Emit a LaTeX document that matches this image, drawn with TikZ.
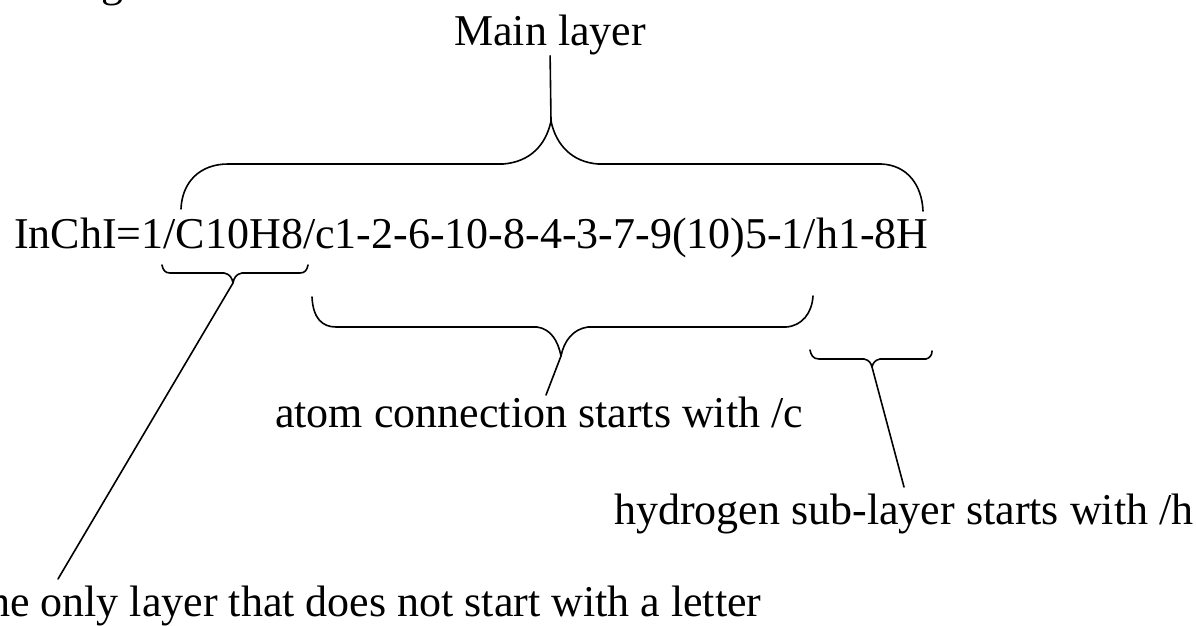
\documentclass[tikz,border=0pt]{standalone}
\usepackage{fontspec}
\setmainfont{Liberation Serif}
\begin{document}
\begin{tikzpicture}[x=1pt,y=-1pt,
  lbl/.style={inner sep=0pt,anchor=base west,font=\fontsize{44}{53}\selectfont},
  brace/.style={line width=1.6pt,line join=round,line cap=round},
  stem/.style={line width=1.6pt,line cap=round}]
\useasboundingbox (0,0) rectangle (1196,626);
\fill[white] (0,0) rectangle (1196,626);
\clip (0,0) rectangle (1196,626);

% tail of the caption line above the figure
\node[lbl] (cap) at (101,-3) {g};

% labels
\node[lbl] (main)  at (454,46)  {Main layer};
\node[lbl] (inchi) at (14,248)  {InChI=1/C10H8/c1-2-6-10-8-4-3-7-9(10)5-1/h1-8H};
\node[lbl] (atom)  at (275,427) {atom connection starts with /c};
\node[lbl] (hyd)   at (614,524) {hydrogen sub-layer starts with /h};
\node[lbl] (first) at (-39,616) {The only layer that does not start with a letter};

% brace tips and free ends of the pointer lines
\coordinate (mainTip) at (551,121);
\coordinate (formTip) at (233,283);
\coordinate (formEnd) at (58,579);
\coordinate (connTip) at (561,356);
\coordinate (connEnd) at (546,395);
\coordinate (hydTip)  at (872,367);
\coordinate (hydEnd)  at (904,487);

% main layer brace over the formula and connection table
\draw[brace] (181,209) .. controls (182,182) and (200,164) .. (228,164)
  -- (503,164) .. controls (530,162) and (546,145) .. (mainTip)
  .. controls (556,145) and (572,162) .. (598,164)
  -- (881,164) .. controls (908,165) and (922,186) .. (923,211);
\draw[stem] (mainTip) -- (main.south);

% formula layer brace
\draw[brace] (162,265) .. controls (163,270) and (165,273) .. (170,273)
  -- (224,273) .. controls (230,274) and (232,278) .. (formTip)
  .. controls (234,278) and (236,274) .. (242,273)
  -- (300,273) .. controls (305,273) and (307,270) .. (308,265);
\draw[stem] (formTip) -- (formEnd);

% connection sub-layer brace
\draw[brace] (312,297) .. controls (313,318) and (322,327) .. (336,327)
  -- (537,327) .. controls (551,329) and (558,341) .. (connTip)
  .. controls (564,341) and (573,329) .. (588,327)
  -- (786,327) .. controls (802,326) and (812,313) .. (813,296);
\draw[stem] (connTip) -- (connEnd);

% hydrogen sub-layer brace
\draw[brace] (810,350) .. controls (811,355) and (813,359) .. (819,359)
  -- (864,359) .. controls (869,360) and (871,363) .. (hydTip)
  .. controls (873,363) and (875,360) .. (880,359)
  -- (926,359) .. controls (930,358) and (932,355) .. (932,351);
\draw[stem] (hydTip) -- (hydEnd);
\end{tikzpicture}
\end{document}
